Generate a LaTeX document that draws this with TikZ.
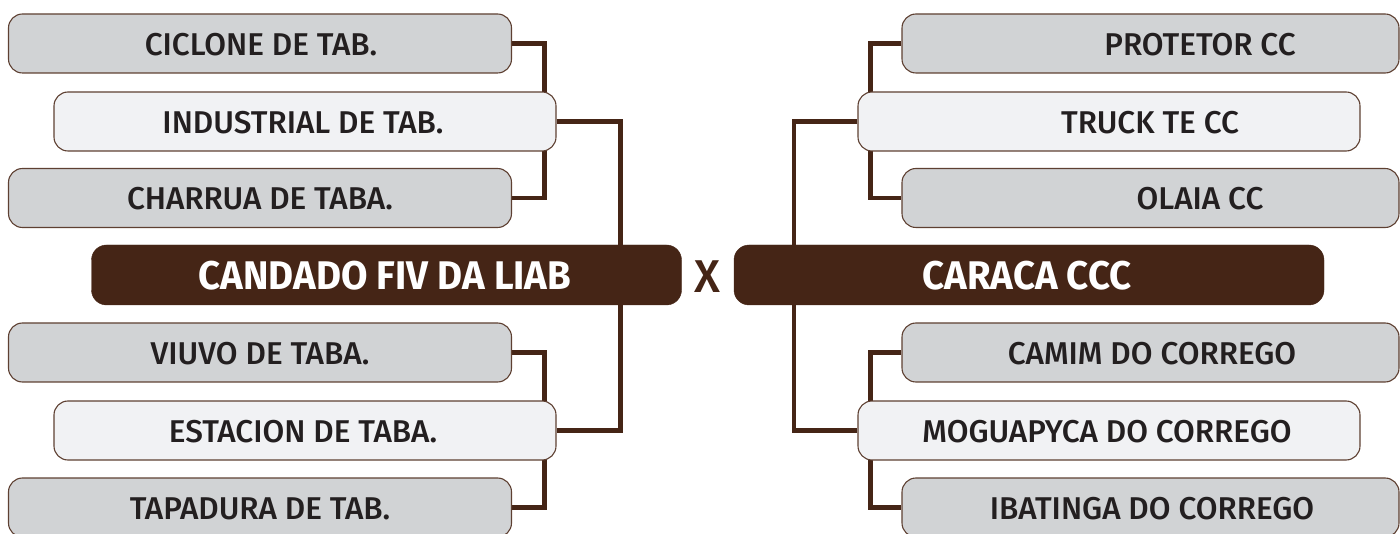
\documentclass[tikz,border=0pt]{standalone}
\usepackage{fontspec}
\setmainfont{Fira Sans}[UprightFont=* Medium, BoldFont=* Bold]
\newfontfamily\teamfont{Fira Sans}[UprightFont=* Bold, FakeStretch=0.96]
\usetikzlibrary{backgrounds}
\definecolor{darkbrown}{HTML}{452516}
\definecolor{edgebrown}{HTML}{5E4032}
\definecolor{boxgray}{HTML}{D1D3D5}
\definecolor{boxlight}{HTML}{F1F2F4}
\definecolor{textdark}{HTML}{231F20}
\begin{document}
\begin{tikzpicture}[x=1pt,y=-1pt,
  box/.style={draw=edgebrown, line width=1.1pt, rounded corners=14pt, minimum height=59pt, inner sep=0pt},
  graybox/.style={box, fill=boxgray, minimum width=503pt},
  lightbox/.style={box, fill=boxlight, minimum width=502pt},
  rgraybox/.style={box, fill=boxgray, minimum width=497pt},
  teambox/.style={draw=darkbrown, fill=darkbrown, rounded corners=15pt, minimum height=60pt, minimum width=590pt, inner sep=0pt},
  lbl/.style={font=\fontsize{31.5}{31.5}\selectfont, text=textdark, inner sep=0pt, anchor=base},
  teamlbl/.style={font=\fontsize{40}{40}\teamfont, text=white, inner sep=0pt, anchor=base},
  conn/.style={draw=darkbrown, line width=4.5pt}]
\useasboundingbox (0,0) rectangle (1400,534);
% left boxes
\node[graybox]  (ciclone)    at (260,43.5)  {};
\node[lightbox] (industrial) at (305,121.5) {};
\node[graybox]  (charrua)    at (260,198)   {};
\node[teambox]  (candado)    at (386.5,275) {};
\node[graybox]  (viuvo)      at (260,352.5) {};
\node[lightbox] (estacion)   at (305,430.5) {};
\node[graybox]  (tapadura)   at (260,507.5) {};
% right boxes
\node[rgraybox] (protetor)   at (1150.5,43.5) {};
\node[lightbox] (truck)      at (1109,121.5)  {};
\node[rgraybox] (olaia)      at (1150.5,198)  {};
\node[teambox]  (caraca)     at (1029,275)    {};
\node[rgraybox] (camim)      at (1150.5,352.5) {};
\node[lightbox] (moguapyca)  at (1109,430.5)  {};
\node[rgraybox] (ibatinga)   at (1150.5,507.5) {};
% labels
\node[lbl] (ciclone-t)    at (261,56)    {CICLONE DE TAB.};
\node[lbl] (industrial-t) at (303,133.5) {INDUSTRIAL DE TAB.};
\node[lbl] (charrua-t)    at (260,210)   {CHARRUA DE TABA.};
\node[teamlbl] (candado-t) at (385,290)  {CANDADO FIV DA LIAB};
\node[lbl] (viuvo-t)      at (260,364.5) {VIUVO DE TABA.};
\node[lbl] (estacion-t)   at (303,442.5) {ESTACION DE TABA.};
\node[lbl] (tapadura-t)   at (260,519.5) {TAPADURA DE TAB.};
\node[lbl] (protetor-t)   at (1200,56)   {PROTETOR CC};
\node[lbl] (truck-t)      at (1150,133.5) {TRUCK TE CC};
\node[lbl] (olaia-t)      at (1200,210)  {OLAIA CC};
\node[teamlbl] (caraca-t) at (1027,290)  {CARACA CCC};
\node[lbl] (camim-t)      at (1152,364.5) {CAMIM DO CORREGO};
\node[lbl] (moguapyca-t)  at (1107,442.5) {MOGUAPYCA DO CORREGO};
\node[lbl] (ibatinga-t)   at (1152,519.5) {IBATINGA DO CORREGO};
\node[font=\fontsize{46}{46}\selectfont, text=darkbrown, inner sep=0pt, anchor=base] (versus) at (707,293) {X};
% connectors
\begin{pgfonlayer}{background}
\draw[conn] (ciclone.east) -- ++(32.5,0) |- (charrua.east);
\draw[conn] (viuvo.east) -- ++(32.5,0) |- (tapadura.east);
\draw[conn] (industrial.east) -- ++(64,0) |- (estacion.east);
\draw[conn] (protetor.west) -- ++(-31,0) |- (olaia.west);
\draw[conn] (camim.west) -- ++(-31,0) |- (ibatinga.west);
\draw[conn] (truck.west) -- ++(-63.5,0) |- (moguapyca.west);
\end{pgfonlayer}
\end{tikzpicture}
\end{document}
